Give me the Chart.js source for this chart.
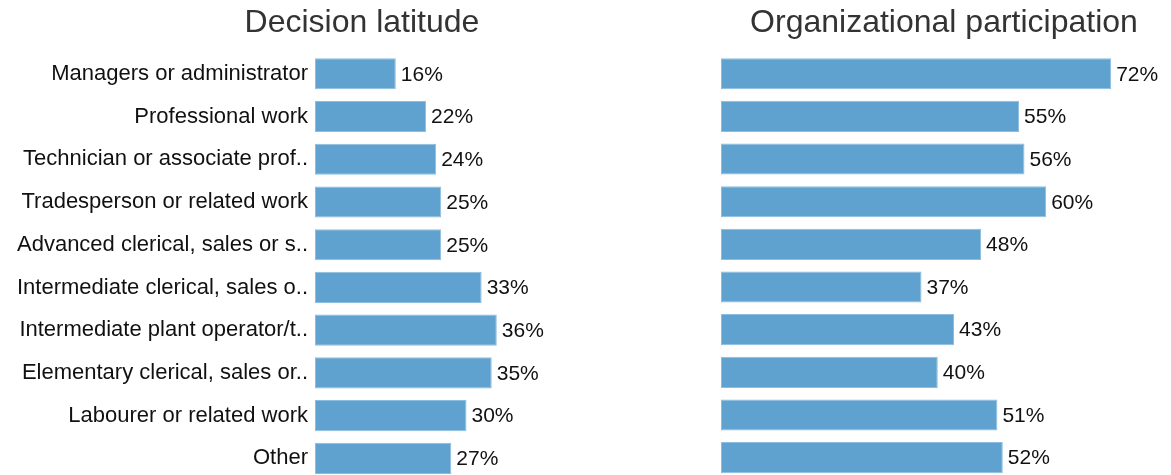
<!DOCTYPE html>
<html>
<head>
<meta charset="utf-8">
<script src="https://cdn.jsdelivr.net/npm/chart.js@4.4.1/dist/chart.umd.min.js"></script>
<style>
	html, body { margin: 0; padding: 0; background: #fff; overflow: hidden; }
	body { width: 1171px; height: 475px; position: relative; }
	.box { position: absolute; top: 0; }
	/* 왼쪽 차트는 y축 레이블 여백(아래) 만큼 높게 */
	#leftBox { left: 0; width: 724px; height: 500px; }
	#rightBox { left: 717px; width: 450px; height: 480px; }
</style>
</head>
<body>
<div class="box" id="leftBox"><canvas id="decisionChart"></canvas></div>
<div class="box" id="rightBox"><canvas id="participationChart"></canvas></div>
<script>
	// 직업 분류 (y축 레이블)
	let categories = [
		'Managers or administrator',
		'Professional work',
		'Technician or associate prof..',
		'Tradesperson or related work',
		'Advanced clerical, sales or s..',
		'Intermediate clerical, sales o..',
		'Intermediate plant operator/t..',
		'Elementary clerical, sales or..',
		'Labourer or related work',
		'Other'
	];

	// 패널 제목
	let titles = ['Decision latitude', 'Organizational participation'];

	// 값 (%)
	let decisionValues = [16, 22, 24, 25, 25, 33, 36, 35, 30, 27];
	let participationValues = [72, 55, 56, 60, 48, 37, 43, 40, 51, 52];

	let fontName = '"Liberation Sans", Arial, Helvetica, sans-serif';
	let barColor = '#5fa2cf';

	// 막대 끝에 값 표시
	let valueLabelPlugin = {
		id: 'valueLabels',
		afterDatasetsDraw: function(chart) {
			let ctx = chart.ctx;
			let meta = chart.getDatasetMeta(0);
			let values = chart.data.datasets[0].data;
			ctx.save();
			ctx.font = '21px ' + fontName;
			ctx.fillStyle = '#111';
			ctx.textAlign = 'left';
			ctx.textBaseline = 'middle';
			meta.data.forEach(function(bar, i) {
				ctx.fillText(values[i] + '%', bar.x + 5, bar.y + 1);
			});
			ctx.restore();
		}
	};

	function makeChart(id, title, values, xMax, showLabels, padding) {
		let ctx = document.getElementById(id).getContext('2d');
		return new Chart(ctx, {
			type: 'bar',
			data: {
				labels: categories,
				datasets: [{
					data: values,
					backgroundColor: barColor,
					borderColor: '#8cbde0',
					borderWidth: 1,
					borderSkipped: false,
					barPercentage: 0.73,
					categoryPercentage: 1
				}]
			},
			options: {
				indexAxis: 'y',
				responsive: true,
				maintainAspectRatio: false,
				animation: false,
				layout: { padding: padding },
				plugins: {
					legend: { display: false },
					tooltip: { enabled: false },
					title: {
						display: true,
						text: title,
						color: '#333',
						font: { family: fontName, size: 32, weight: 'normal' },
						padding: { top: 4, bottom: 10 }
					}
				},
				scales: {
					x: {
						display: false,
						min: 0,
						max: xMax
					},
					y: {
						display: showLabels,
						grid: { display: false, drawTicks: false },
						border: { display: false },
						ticks: {
							color: '#111',
							padding: 7,
							font: { family: fontName, size: 22 }
						},
						afterFit: function(scale) {
							if (showLabels) scale.width = 315;
						}
					}
				}
			},
			plugins: [valueLabelPlugin]
		});
	}

	makeChart('decisionChart', titles[0], decisionValues, 81, true, { left: 0, right: 0, top: 0, bottom: 1 });
	makeChart('participationChart', titles[1], participationValues, 82.3, false, { left: 4, right: 0, top: 0, bottom: 1 });
</script>
</body>
</html>
